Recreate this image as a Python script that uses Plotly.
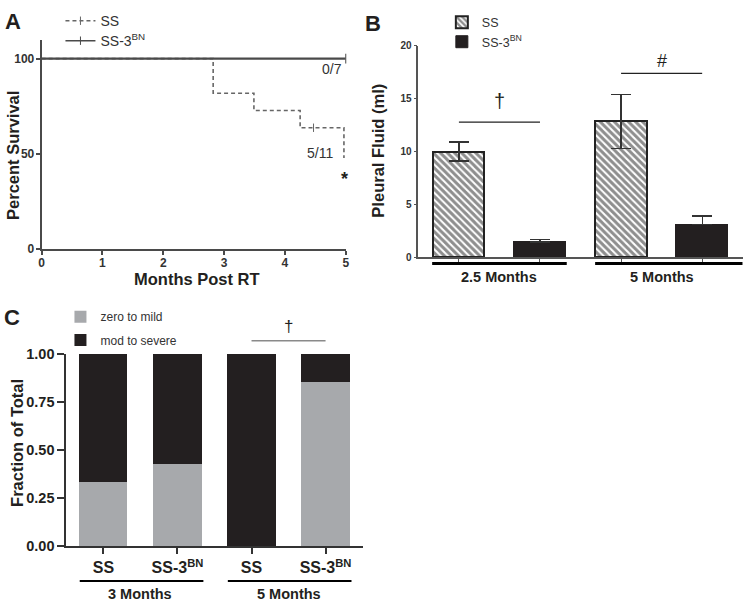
import plotly.graph_objects as go

# ---------------- data ----------------
# Panel A: Kaplan-Meier survival
km_ss_months = [0, 2.82, 3.49, 4.25, 4.97]
km_ss_survival = [100, 81.8, 72.7, 63.6, 47.7]
km_ss_censor_months = [4.47]
km_ss_censor_survival = [63.6]
km_bn_months = [0, 5]
km_bn_survival = [100, 100]
km_bn_censor_months = [5]
km_bn_censor_survival = [100]

# Panel B: pleural fluid (ml)
fluid_groups = ["2.5 Months", "5 Months"]
fluid_ss_mean = [10.0, 12.85]
fluid_ss_err = [0.9, 2.55]
fluid_bn_mean = [1.42, 3.07]
fluid_bn_err = [0.22, 0.82]

# Panel C: fraction of total
grade_groups = ["3 Months", "5 Months"]
grade_bar_labels = ["SS", "SS-3<sup>BN</sup>", "SS", "SS-3<sup>BN</sup>"]
grade_zero_mild = [0.333, 0.429, 0.0, 0.857]
grade_mod_severe = [0.667, 0.571, 1.0, 0.143]

# ---------------- style ----------------
W, H = 747, 612
FONT = "Liberation Sans, Arial, Helvetica, sans-serif"
DARK = "#231f20"
AXC = "#4a4a4a"
GRAY = "#a7a9ac"


def px(x):
    return x / W


def py(y):
    return 1 - y / H


fig = go.Figure()

# ---------------- Panel A ----------------
fig.add_trace(go.Scatter(x=km_ss_months, y=km_ss_survival, mode="lines", line_shape="hv",
                         line=dict(color="#666666", width=1.6, dash="4px,3px"),
                         xaxis="x", yaxis="y", showlegend=False, cliponaxis=False))
fig.add_trace(go.Scatter(x=km_bn_months, y=km_bn_survival, mode="lines", line_shape="hv",
                         line=dict(color=AXC, width=2.2),
                         xaxis="x", yaxis="y", showlegend=False, cliponaxis=False))
fig.add_trace(go.Scatter(x=km_ss_censor_months, y=km_ss_censor_survival, mode="markers",
                         marker=dict(symbol="line-ns", size=6, line=dict(color="#666666", width=1)),
                         xaxis="x", yaxis="y", showlegend=False, cliponaxis=False))
fig.add_trace(go.Scatter(x=km_bn_censor_months, y=km_bn_censor_survival, mode="markers",
                         marker=dict(symbol="line-ns", size=7, line=dict(color=AXC, width=1)),
                         xaxis="x", yaxis="y", showlegend=False, cliponaxis=False))
# legend entries for A
fig.add_trace(go.Scatter(x=[None], y=[None], mode="lines+markers", name="SS",
                         line=dict(color="#666666", width=1.6, dash="4px,3px"),
                         marker=dict(symbol="line-ns", size=6, line=dict(color="#666666", width=1)),
                         xaxis="x", yaxis="y", legend="legend"))
fig.add_trace(go.Scatter(x=[None], y=[None], mode="lines+markers", name="SS-3<sup>BN</sup>",
                         line=dict(color=AXC, width=1.6),
                         marker=dict(symbol="line-ns", size=6, line=dict(color=AXC, width=1)),
                         xaxis="x", yaxis="y", legend="legend2"))

# ---------------- Panel B ----------------
b_ss_x = [0.5 + 2 * i for i in range(len(fluid_groups))]
b_bn_x = [1.5 + 2 * i for i in range(len(fluid_groups))]
fig.add_trace(go.Bar(x=b_ss_x, y=fluid_ss_mean, width=0.64, name="SS",
                     marker=dict(color="white", line=dict(color="#222222", width=2),
                                 pattern=dict(shape="\\", fgcolor="#1e1e1e", bgcolor="white",
                                              size=5, solidity=0.6)),
                     error_y=dict(type="data", array=fluid_ss_err, color="#333333",
                                  thickness=1.3, width=10),
                     xaxis="x2", yaxis="y2", legend="legend3"))
fig.add_trace(go.Bar(x=b_bn_x, y=fluid_bn_mean, width=0.64, name="SS-3<sup>BN</sup>",
                     marker=dict(color=DARK, line=dict(color=DARK, width=1)),
                     error_y=dict(type="data", symmetric=False, array=fluid_bn_err,
                                  arrayminus=[0] * len(fluid_bn_err), color="#333333",
                                  thickness=1.3, width=10),
                     xaxis="x2", yaxis="y2", legend="legend4"))

# ---------------- Panel C ----------------
c_x = [0.5 + i for i in range(len(grade_bar_labels))]
fig.add_trace(go.Bar(x=c_x, y=grade_zero_mild, width=0.66, name="zero to mild",
                     marker=dict(color=GRAY, line=dict(width=0)),
                     xaxis="x3", yaxis="y3", legend="legend5"))
fig.add_trace(go.Bar(x=c_x, y=grade_mod_severe, width=0.66, name="mod to severe",
                     marker=dict(color=DARK, line=dict(width=0)),
                     xaxis="x3", yaxis="y3", legend="legend6"))

bold = dict(family=FONT, weight="bold")

axis_common = dict(showgrid=False, zeroline=False, showline=True, ticks="outside",
                   fixedrange=True)

legend_common = dict(bgcolor="rgba(0,0,0,0)", borderwidth=0, xanchor="left",
                     yanchor="middle", itemclick=False, itemdoubleclick=False)

fig.update_layout(
    width=W, height=H, margin=dict(l=0, r=0, t=0, b=0),
    paper_bgcolor="white", plot_bgcolor="white",
    barmode="stack", bargap=0,
    font=dict(family=FONT, color=DARK),
    xaxis=dict(domain=[px(39), px(346)], range=[0, 5], tickvals=[0, 1, 2, 3, 4, 5],
               linecolor=AXC, linewidth=2, ticklen=4, tickwidth=1.5, tickcolor=AXC,
               ticklabelstandoff=-2,
               tickfont=dict(size=12, color="#333333", **bold), anchor="y", **axis_common),
    yaxis=dict(domain=[py(247), py(32.5)], range=[0, 110], tickvals=[0, 50, 100],
               linecolor=AXC, linewidth=2, ticklen=4, tickwidth=1.5, tickcolor=AXC,
               ticklabelstandoff=-1,
               tickfont=dict(size=12, color="#333333", **bold), anchor="x", **axis_common),
    xaxis2=dict(domain=[px(419.3), px(746.7)], range=[0, 4], tickvals=b_ss_x + b_bn_x,
                showticklabels=False, linecolor="#555555", linewidth=1.5, ticklen=4,
                tickwidth=1, tickcolor="#555555", anchor="y2", **axis_common),
    yaxis2=dict(domain=[py(255.7), py(39)], range=[0, 20], tickvals=[0, 5, 10, 15, 20],
                linecolor="#555555", linewidth=1.5, ticklen=3, tickwidth=1, tickcolor="#555555",
                tickfont=dict(size=10, color="#333333", **bold), anchor="x2", **axis_common),
    xaxis3=dict(domain=[px(64), px(363)], range=[0, 4], tickvals=c_x, ticktext=grade_bar_labels,
                linecolor="#333333", linewidth=2, ticklen=6, tickwidth=2, tickcolor="#333333",
                tickfont=dict(size=16, color=DARK, **bold), anchor="y3", **axis_common),
    yaxis3=dict(domain=[py(552.7), py(355)], range=[0, 1], tickvals=[0, 0.25, 0.5, 0.75, 1],
                tickformat=".2f", linecolor="#333333", linewidth=2, ticklen=7, tickwidth=2,
                tickcolor="#333333", tickfont=dict(size=14.5, color=DARK, **bold),
                anchor="x3", **axis_common),
    legend=dict(x=px(58), y=py(13.5), font=dict(size=14, color="#333333"), **legend_common),
    legend2=dict(x=px(58), y=py(34), font=dict(size=14, color="#333333"), **legend_common),
    legend3=dict(x=px(443), y=py(15), font=dict(size=12.5, color="#333333"), **legend_common),
    legend4=dict(x=px(443), y=py(35), font=dict(size=12.5, color="#333333"), **legend_common),
    legend5=dict(x=px(58), y=py(317), font=dict(size=12, color="#333333"), **legend_common),
    legend6=dict(x=px(58), y=py(341), font=dict(size=12, color="#333333"), **legend_common),
)

ann = []


def add_text(text, x, y, size, xref="paper", yref="paper", weight="bold", angle=0,
             color=DARK):
    ann.append(dict(text=text, x=x, y=y, xref=xref, yref=yref, showarrow=False,
                    xanchor="center", yanchor="middle", textangle=angle,
                    font=dict(family=FONT, size=size, color=color, weight=weight)))


# panel letters
add_text("A", px(10), py(14), 22)
add_text("B", px(374), py(16), 22)
add_text("C", px(9.5), py(317.5), 22)

# Panel A titles/labels
add_text("Months Post RT", px(196), py(278.5), 16.5)
add_text("Percent Survival", px(10), py(151), 16.5, angle=-90)
add_text("0/7", 4.77, 94.4, 14, xref="x", yref="y", weight="normal", color="#333333")
add_text("5/11", 4.58, 50.3, 14, xref="x", yref="y", weight="normal", color="#333333")
add_text("*", 4.98, 36.5, 18, xref="x", yref="y", weight="bold")

# Panel B
add_text("Pleural Fluid (ml)", px(379), py(146), 16.5, angle=-90)
for i, g in enumerate(fluid_groups):
    add_text(g, 1.0 + 2 * i, py(276), 14.5, xref="x2")
add_text("\u2020", 1.0, 14.8, 20, xref="x2", yref="y2", weight="normal")
add_text("#", 3.0, 18.6, 18, xref="x2", yref="y2", weight="normal")

# Panel C
add_text("Fraction of Total", px(14), py(446.7), 16.5, angle=-90)
for i, g in enumerate(grade_groups):
    add_text(g, 1.0 + 2 * i, py(601.7), 14.5, xref="x3")
add_text("\u2020", 3.0, py(326.7), 17, xref="x3", weight="normal")

shapes = []
# Panel B group brackets
shapes.append(dict(type="line", xref="x2", yref="paper", x0=0.17, x1=1.83,
                   y0=py(262.3), y1=py(262.3), line=dict(color="black", width=3)))
shapes.append(dict(type="line", xref="x2", yref="paper", x0=2.18, x1=4.0,
                   y0=py(262.3), y1=py(262.3), line=dict(color="black", width=3)))
# Panel B significance lines
shapes.append(dict(type="line", xref="x2", yref="y2", x0=0.5, x1=1.5, y0=12.78, y1=12.78,
                   line=dict(color="#222222", width=1.2)))
shapes.append(dict(type="line", xref="x2", yref="y2", x0=2.5, x1=3.5, y0=17.4, y1=17.4,
                   line=dict(color="#222222", width=1.2)))
# Panel C group brackets
shapes.append(dict(type="line", xref="x3", yref="paper", x0=0.18, x1=1.85,
                   y0=py(588.3), y1=py(588.3), line=dict(color="black", width=2)))
shapes.append(dict(type="line", xref="x3", yref="paper", x0=2.18, x1=3.85,
                   y0=py(588.3), y1=py(588.3), line=dict(color="black", width=2)))
# Panel C significance line
shapes.append(dict(type="line", xref="x3", yref="paper", x0=2.5, x1=3.5,
                   y0=py(341.7), y1=py(341.7), line=dict(color="#8a8a8a", width=1.5)))

fig.update_layout(annotations=ann, shapes=shapes)

# remove the browser's default 8px page margin so the figure sits at the window origin
fig.write_html("out.html", config=dict(displayModeBar=False),
               post_script="document.body.style.margin='0px';document.body.style.padding='0px';")
